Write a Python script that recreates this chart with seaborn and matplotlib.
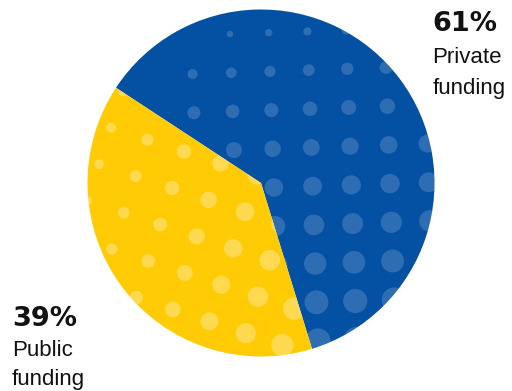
import numpy as np
import pandas as pd
import matplotlib
matplotlib.use("Agg")
import matplotlib.pyplot as plt
import seaborn as sns

# Funding split
categories = ["Private funding", "Public funding"]
shares = [61, 39]
pct_labels = ["61%", "39%"]
name_lines = [["Private", "funding"], ["Public", "funding"]]

BLUE = "#0450A3"
YELLOW = "#FFCB05"

W, H = 512, 391
sns.set_style("white")
plt.rcParams["font.family"] = ["Liberation Sans", "DejaVu Sans"]

fig = plt.figure(figsize=(W / 100, H / 100), dpi=100)
ax = fig.add_axes([0, 0, 1, 1])

# pie drawn in pixel units (y pointing up)
cx, cy, R = 261.0, H - 183.0, 173.5
wedges, _ = ax.pie(shares, colors=[BLUE, YELLOW], startangle=287.1,
                   counterclock=True, radius=R, center=(cx, cy),
                   wedgeprops=dict(linewidth=0, antialiased=True))


def halftone(origin, u, v, rng_i, rng_j, radius_fn, r_min):
    """Grid of dots (image pixel coords, y down) with position-dependent radius."""
    rows = []
    for i in rng_i:
        for j in rng_j:
            x = origin[0] + i * u[0] + j * v[0]
            y = origin[1] + i * u[1] + j * v[1]
            if (x - cx) ** 2 + (H - y - cy) ** 2 > (R + 15) ** 2:
                continue
            r = radius_fn(x, y)
            if r < r_min:
                continue
            rows.append((x, H - y, (2 * r * 0.72) ** 2))
    return pd.DataFrame(rows, columns=["x", "y", "s"])


def blue_r(x, y):
    return np.sqrt(max(0.46 * (y - 5) + 0.1 * (x - 260), 0))


def yellow_r(x, y):
    return 5 + 0.0285 * (x - 111) + 0.0056 * (y - 127.7)


blue_dots = halftone((231.3, 72.7), (38.7, -1.3), (1.3, 38.7),
                     range(-1, 8), range(-2, 9), blue_r, 2.8)
yellow_dots = halftone((111.0, 127.7), (36.5, 11.9), (-11.9, 36.5),
                       range(-4, 8), range(-3, 8), yellow_r, 1.0)

for dots, wedge, alpha in [(blue_dots, wedges[0], 0.17), (yellow_dots, wedges[1], 0.30)]:
    sns.scatterplot(data=dots, x="x", y="y", s=dots["s"].values, color="white",
                    alpha=alpha, linewidth=0, ax=ax, legend=False)
    ax.collections[-1].set_clip_path(wedge)

ax.set_xlim(0, W)
ax.set_ylim(0, H)
ax.set_aspect("equal")
ax.axis("off")

# labels: percentage then two-line name
label_pos = [(432.5, [31.3, 62.7, 94.3]), (12.0, [326.5, 355.5, 385.5])]
for (x, ys), pct, lines in zip(label_pos, pct_labels, name_lines):
    ax.text(x, H - ys[0], pct, fontsize=19.5, fontweight="bold",
            family=["DejaVu Sans"], color="#111111", ha="left", va="baseline")
    for line, yb in zip(lines, ys[1:]):
        ax.text(x, H - yb, line, fontsize=16, color="#111111",
                ha="left", va="baseline")

fig.savefig("out.png", dpi=100, facecolor="white")
